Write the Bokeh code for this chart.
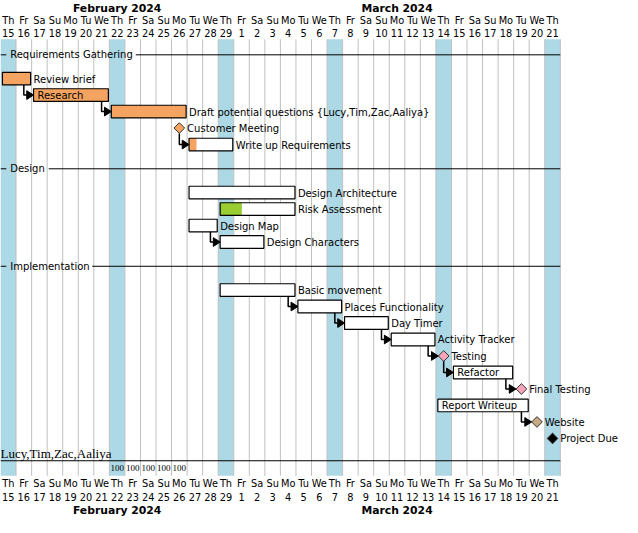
from bokeh.plotting import figure
from bokeh.models import Range1d, ColumnDataSource
from bokeh.core.properties import value
from bokeh.embed import file_html
from bokeh.resources import INLINE

# ---------------- data ----------------
day_names = ["Th", "Fr", "Sa", "Su", "Mo", "Tu", "We", "Th", "Fr", "Sa", "Su", "Mo", "Tu", "We", "Th",
             "Fr", "Sa", "Su", "Mo", "Tu", "We", "Th", "Fr", "Sa", "Su", "Mo", "Tu", "We", "Th",
             "Fr", "Sa", "Su", "Mo", "Tu", "We", "Th"]
day_numbers = ["15", "16", "17", "18", "19", "20", "21", "22", "23", "24", "25", "26", "27", "28", "29",
               "1", "2", "3", "4", "5", "6", "7", "8", "9", "10", "11", "12", "13", "14", "15",
               "16", "17", "18", "19", "20", "21"]
month_names = ["February 2024", "March 2024"]
month_first_day = [0, 15]
month_last_day = [15, 36]
highlight_days = [0, 7, 14, 21, 28, 35]

section_names = ["Requirements Gathering", "Design", "Implementation"]

task_names = ["Review brief", "Research", "Draft potential questions {Lucy,Tim,Zac,Aaliya}",
              "Customer Meeting", "Write up Requirements",
              "Design Architecture", "Risk Assessment", "Design Map", "Design Characters",
              "Basic movement", "Places Functionality", "Day Timer", "Activity Tracker",
              "Testing", "Refactor", "Final Testing", "Report Writeup", "Website", "Project Due"]
task_section = [0, 0, 0, 0, 0, 1, 1, 1, 1, 2, 2, 2, 2, 2, 2, 2, 2, 2, 2]
task_start = [0, 2, 7, 11, 12, 12, 14, 12, 14, 14, 19, 22, 25, 28, 29, 33, 28, 34, 35]
task_end = [2, 7, 12, 11, 15, 19, 19, 14, 17, 19, 22, 25, 28, 28, 33, 33, 34, 34, 35]
task_progress = [1.0, 1.0, 1.0, 0, 0.17, 0, 0.29, 0, 0, 0, 0, 0, 0, 0, 0, 0, 0, 0, 0]
task_color = ["#F4A460", "#F4A460", "#F4A460", "#F4A460", "#F4A460",
              "#FFFFFF", "#9ACD32", "#FFFFFF", "#FFFFFF",
              "#FFFFFF", "#FFFFFF", "#FFFFFF", "#FFFFFF",
              "#F7A6B8", "#FFFFFF", "#F7A6B8", "#FFFFFF", "#C8AA82", "#000000"]
label_inside = [False, True, False, False, False, False, False, False, False,
                False, False, False, False, False, True, False, True, False, False]

dependencies = [(0, 1), (1, 2), (3, 4), (7, 8), (9, 10), (10, 11), (11, 12),
                (12, 13), (13, 14), (14, 15), (16, 17)]

resource_name = "Lucy,Tim,Zac,Aaliya"
load_days = [7, 8, 9, 10, 11]
load_values = [100, 100, 100, 100, 100]

# ---------------- layout helpers ----------------
PX = 1.0 / 16.0          # one reference pixel in day units
N_DAYS = len(day_names)
GRID_TOP, GRID_BOTTOM = 40, 490
FONT = value("DejaVu Sans")
LABEL_SIZE = "10px"
DAY_SIZE = "9.8px"

# vertical row positions
row_y, sec_y = [], []
y = 56.0
cur = -1
for s in task_section:
    if s != cur:
        if cur != -1:
            y += 25
        sec_y.append(y)
        y += 24.5
        cur = s
    else:
        y += 17
    row_y.append(y)
res_y = row_y[-1] + 16

p = figure(width=622, height=517, output_backend="svg", toolbar_location=None,
           x_range=Range1d(0, 640 * PX), y_range=Range1d(533, 0),
           min_border=0, x_axis_type=None, y_axis_type=None)
p.grid.visible = False
p.outline_line_color = None
p.background_fill_color = "white"

# highlighted columns
p.quad(left=highlight_days, right=[d + 1 for d in highlight_days],
       top=GRID_TOP, bottom=GRID_BOTTOM, fill_color="#ADD8E6", line_color=None)
# vertical grid lines
p.segment(x0=list(range(1, N_DAYS + 1)), y0=GRID_TOP, x1=list(range(1, N_DAYS + 1)), y1=GRID_BOTTOM,
          line_color="#C0C0C0", line_width=1)

# header / footer labels
centers = [i + 0.5 for i in range(N_DAYS)]
for yn, yd in ((21, 33), (498, 512)):
    p.text(x=centers, y=[yn] * N_DAYS, text=day_names, text_font=FONT, text_font_size=DAY_SIZE,
           text_align="center", text_baseline="middle", text_color="black")
    p.text(x=centers, y=[yd] * N_DAYS, text=day_numbers, text_font=FONT, text_font_size=DAY_SIZE,
           text_align="center", text_baseline="middle", text_color="black")
m_centers = [(a + b) / 2 for a, b in zip(month_first_day, month_last_day)]
for ym in (8, 526):
    p.text(x=m_centers, y=[ym] * len(month_names), text=month_names, text_font=FONT,
           text_font_size="10.8px", text_font_style="bold", text_align="center",
           text_baseline="middle", text_color="black")

# section headers
for name, sy in zip(section_names, sec_y):
    p.segment(x0=[0], y0=[sy], x1=[6 * PX], y1=[sy], line_color="black", line_width=1)
    p.segment(x0=[(16 + len(name) * 5.6) * PX], y0=[sy], x1=[N_DAYS], y1=[sy],
              line_color="black", line_width=1)
    p.text(x=[10 * PX], y=[sy], text=[name], text_font=FONT, text_font_size=LABEL_SIZE,
           text_baseline="middle", text_color="black")

# task bars
bars = [i for i in range(len(task_names)) if task_end[i] > task_start[i]]
miles = [i for i in range(len(task_names)) if task_end[i] == task_start[i]]
bl = {i: task_start[i] + 2 * PX for i in bars}
br = {i: task_end[i] - 1 * PX for i in bars}
bsrc = ColumnDataSource(dict(
    left=[bl[i] for i in bars], right=[br[i] for i in bars],
    top=[row_y[i] - 6.5 for i in bars], bottom=[row_y[i] + 6.5 for i in bars],
    pright=[bl[i] + (br[i] - bl[i]) * task_progress[i] for i in bars],
    color=[task_color[i] for i in bars]))
p.quad(left="left", right="right", top="top", bottom="bottom", source=bsrc,
       fill_color="white", line_color=None)
p.quad(left="left", right="pright", top="top", bottom="bottom", source=bsrc,
       fill_color="color", line_color=None)
p.quad(left="left", right="right", top="top", bottom="bottom", source=bsrc,
       fill_color=None, line_color="black", line_width=1.2)

# milestones
mc = {i: task_start[i] + 0.5 for i in miles}
H = 5.5
p.patches(xs=[[mc[i] - H * PX, mc[i], mc[i] + H * PX, mc[i]] for i in miles],
          ys=[[row_y[i], row_y[i] - H, row_y[i], row_y[i] + H] for i in miles],
          fill_color=[task_color[i] for i in miles], line_color="#333333", line_width=1)

# task labels
lx, ly, lt = [], [], []
for i in range(len(task_names)):
    if i in mc:
        lx.append(mc[i] + 8 * PX)
    elif label_inside[i]:
        lx.append(bl[i] + 4 * PX)
    else:
        lx.append(br[i] + 3 * PX)
    ly.append(row_y[i] + 0.5)
    lt.append(task_names[i])
p.text(x=lx, y=ly, text=lt, text_font=FONT, text_font_size=LABEL_SIZE,
       text_baseline="middle", text_color="black")

# dependency arrows
lxs, lys, txs, tys = [], [], [], []
for a, b in dependencies:
    if a in mc:
        vx, vy0 = mc[a], row_y[a] + H
    else:
        vx, vy0 = task_end[a] - 0.5, row_y[a] + 6.5
    tx = (mc[b] - H * PX) if b in mc else bl[b]
    yb = row_y[b]
    lxs.append([vx, vx, tx - 6 * PX])
    lys.append([vy0, yb, yb])
    txs.append([tx, tx - 7 * PX, tx - 7 * PX])
    tys.append([yb, yb - 4.5, yb + 4.5])
p.multi_line(xs=lxs, ys=lys, line_color="black", line_width=1.5)
p.patches(xs=txs, ys=tys, fill_color="black", line_color="black", line_width=1)

# resource load row
p.text(x=[0], y=[res_y], text=[resource_name], text_font=value("Liberation Serif"),
       text_font_size="13px", text_baseline="middle", text_color="black")
p.segment(x0=[0], y0=[res_y + 7], x1=[N_DAYS], y1=[res_y + 7], line_color="black", line_width=1.2)
p.text(x=[d + 0.5 for d in load_days], y=[res_y + 14] * len(load_days),
       text=[str(v) for v in load_values], text_font=value("Liberation Serif"),
       text_font_size="9px", text_align="center", text_baseline="middle", text_color="black")

open("out.html", "w").write(file_html(p, INLINE))
